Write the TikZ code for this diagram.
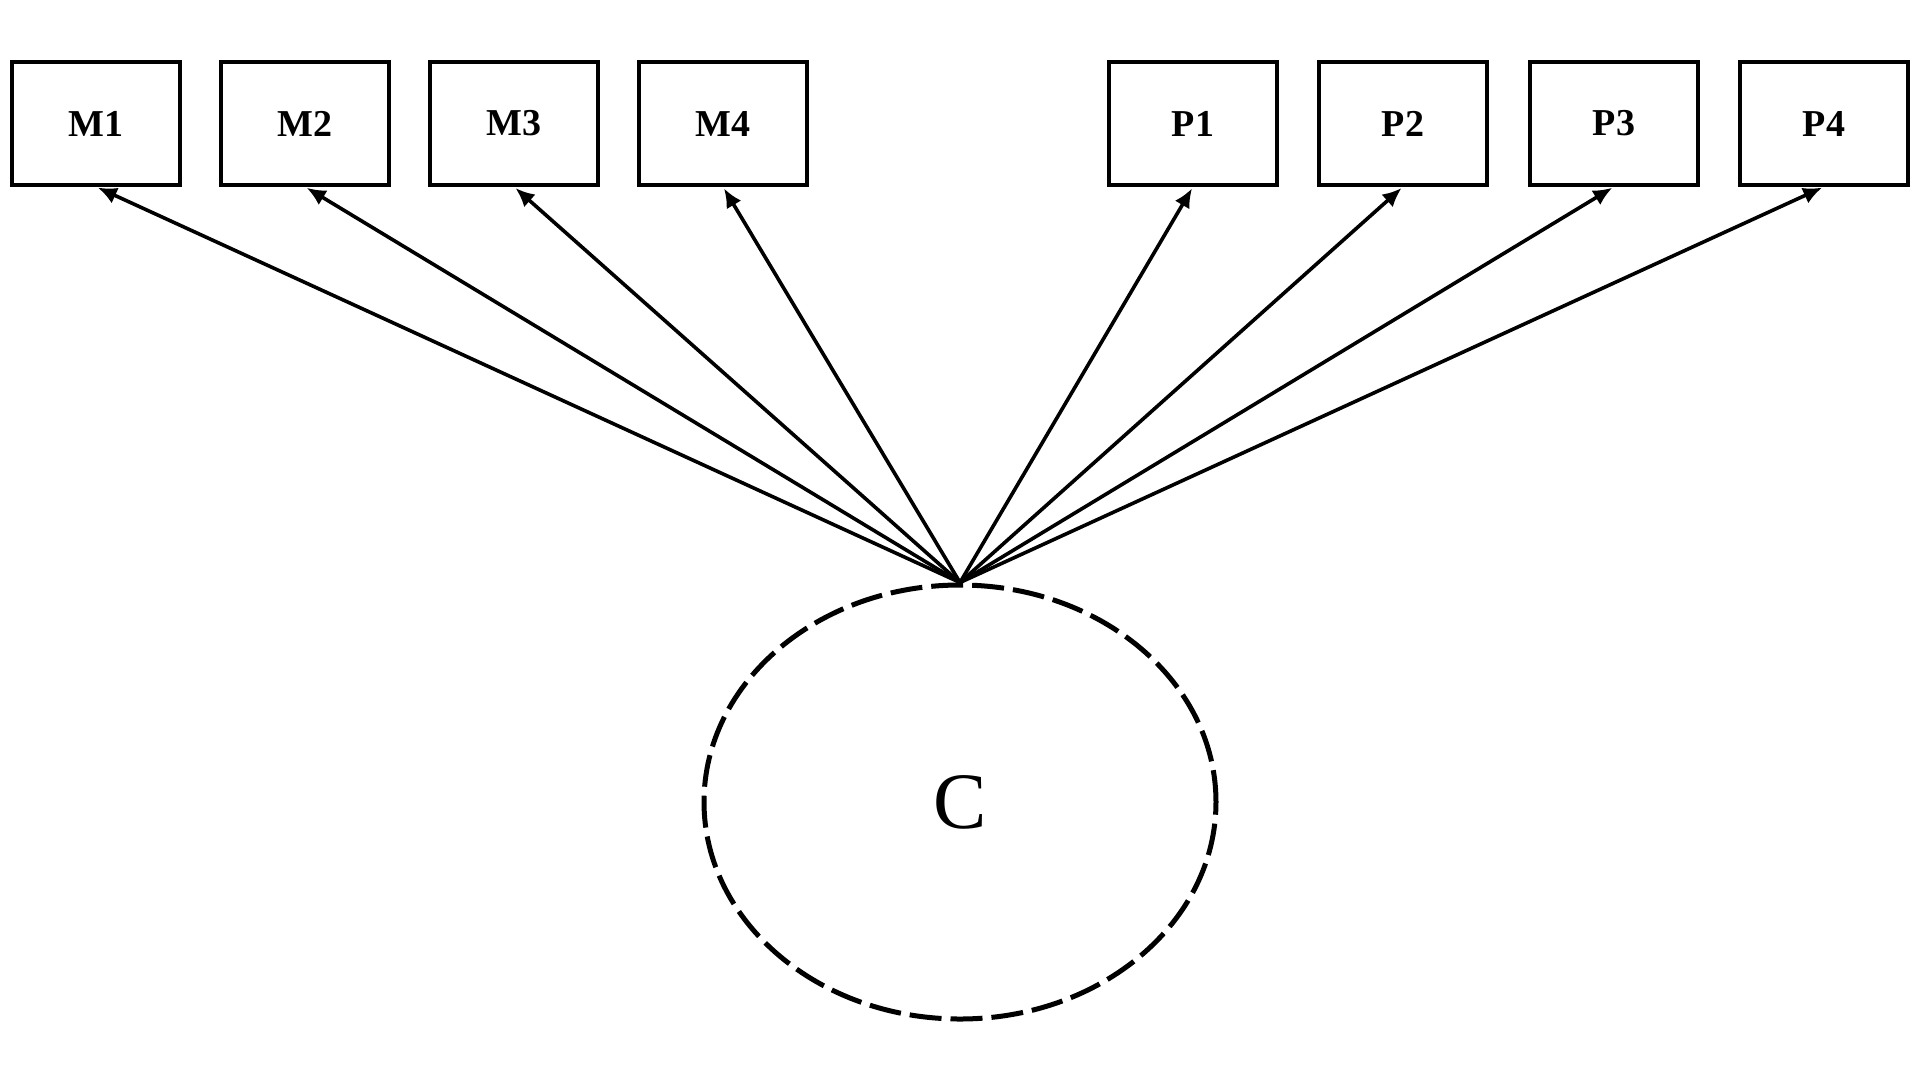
\documentclass[tikz,border=0pt]{standalone}
\usepackage{fontspec}
\setmainfont{Liberation Serif}
\usetikzlibrary{shapes.geometric,arrows.meta}
\tikzset{
  indicator/.style={draw, line width=3.5pt, minimum width=168pt, minimum height=123pt,
    font=\fontsize{38}{40}\selectfont\bfseries},
  latent/.style={draw, ellipse, dash pattern=on 32pt off 9pt, line width=5pt,
    minimum width=512pt, minimum height=434pt, font=\fontsize{80}{84}\selectfont},
  loading/.style={line width=3.6pt, shorten >=2pt, -{Latex[length=19pt,width=17pt]}}
}
\begin{document}
\begin{tikzpicture}[x=1pt,y=-1pt]
            \useasboundingbox (0,0) rectangle (1920,1080);
            \foreach \i/\xx in {1/96,2/305,3/514,4/723}
                \node[indicator] (m\i) at (\xx,123.5) {M\i};
            \foreach \i/\xx in {1/1193,2/1403,3/1614,4/1824}
                \node[indicator] (p\i) at (\xx,123.5) {P\i};
            \node[latent] (c) at (960,802) {C};
            %loadings
            \foreach \n in {m1,m2,m3,m4,p1,p2,p3,p4}
                \draw[loading] (c.north) -- (\n.south);

        \end{tikzpicture}
\end{document}
